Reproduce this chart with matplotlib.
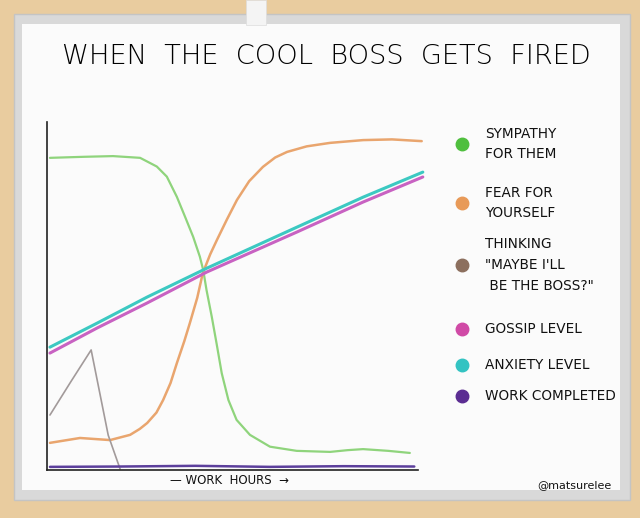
import numpy as np
import matplotlib.pyplot as plt
from matplotlib.patches import Rectangle
from matplotlib.lines import Line2D

# Daten (x = Arbeitsstunden 0..10, y = Niveau 0..10)
sym_x = [0.08, 1.0, 1.78, 2.51, 2.96, 3.23, 3.50, 3.72, 3.94, 4.12, 4.21, 4.30, 4.44, 4.57, 4.71, 4.89, 5.11, 5.47, 6.01, 6.73, 7.63, 8.1, 8.52, 9.2, 9.78]
sym_y = [8.97, 9.00, 9.02, 8.97, 8.72, 8.43, 7.85, 7.28, 6.70, 6.13, 5.75, 5.17, 4.41, 3.64, 2.78, 2.01, 1.44, 1.01, 0.67, 0.55, 0.52, 0.57, 0.60, 0.55, 0.49]

fear_x = [0.08, 0.89, 1.70, 2.24, 2.50, 2.70, 2.95, 3.13, 3.33, 3.50, 3.70, 3.85, 4.05, 4.20, 4.40, 4.58, 4.85, 5.12, 5.45, 5.82, 6.15, 6.47, 7.0, 7.63, 8.52, 9.3, 10.1]
fear_y = [0.78, 0.92, 0.86, 1.01, 1.18, 1.35, 1.65, 2.01, 2.50, 3.07, 3.70, 4.22, 4.95, 5.66, 6.20, 6.61, 7.20, 7.76, 8.30, 8.71, 8.98, 9.14, 9.30, 9.40, 9.48, 9.50, 9.45]

anx_x = [0.08, 1.35, 2.70, 4.31, 6.74, 8.52, 10.13]
anx_y = [3.53, 4.22, 4.97, 5.80, 6.98, 7.84, 8.56]

gossip_x = [0.08, 1.35, 2.70, 4.31, 6.74, 8.52, 10.13]
gossip_y = [3.36, 4.08, 4.80, 5.69, 6.84, 7.70, 8.42]

think_x = [0.08, 0.65, 1.19, 1.65, 1.97]
think_y = [1.58, 2.55, 3.45, 1.00, 0.03]

work_x = [0.08, 2.0, 4.0, 6.0, 8.0, 9.9]
work_y = [0.09, 0.10, 0.12, 0.09, 0.11, 0.10]

labels = ['SYMPATHY\nFOR THEM', 'FEAR FOR\nYOURSELF', 'THINKING\n"MAYBE I\'LL\n BE THE BOSS?"',
          'GOSSIP LEVEL', 'ANXIETY LEVEL', 'WORK COMPLETED']
dot_colors = ['#4fbf3e', '#e89a58', '#8c6f5e', '#d04aa6', '#33c3c2', '#5b2d92']
line_colors = ['#8fd47c', '#e9a56e', '#a29a9a', '#c862c2', '#3cc9c2', '#5c3f9c']

fig = plt.figure(figsize=(6.4, 5.18), dpi=100)
fig.patch.set_facecolor('#e9cc9f')

# Whiteboard mit Rahmen
fig.add_artist(Rectangle((14/640, 1-500/518), 616/640, 486/518, transform=fig.transFigure,
                         facecolor='#d9d9d9', edgecolor='#c4c4c4', lw=1, zorder=-3))
fig.add_artist(Rectangle((22/640, 1-490/518), 598/640, 466/518, transform=fig.transFigure,
                         facecolor='#fbfbfb', edgecolor='none', zorder=-2))
fig.add_artist(Rectangle((246/640, 1-25/518), 20/640, 25/518, transform=fig.transFigure,
                         facecolor='#f4f4f4', edgecolor='#dddddd', lw=0.5, zorder=-1))

ax = fig.add_axes([47/640, 1-470/518, (418-47)/640, (470-122)/518])
ax.set_facecolor('none')
ax.set_xlim(0, 10)
ax.set_ylim(0, 10)
for side in ['top', 'right']:
    ax.spines[side].set_visible(False)
for side in ['left', 'bottom']:
    ax.spines[side].set_color('#222222')
    ax.spines[side].set_linewidth(1.2)
ax.set_xticks([])
ax.set_yticks([])

series = [(sym_x, sym_y, 1.6), (fear_x, fear_y, 1.8), (think_x, think_y, 1.2),
          (gossip_x, gossip_y, 2.2), (anx_x, anx_y, 2.2), (work_x, work_y, 1.8)]
for (xs, ys, lw), c in zip(series, line_colors):
    ax.plot(xs, ys, color=c, lw=lw, solid_capstyle='round', solid_joinstyle='round', clip_on=False)

fig.text(326/640, 1-56/518, 'WHEN  THE  COOL  BOSS  GETS  FIRED', ha='center', va='center',
         fontsize=19.6, color='#000000', fontweight='light')

# Legende
dot_y = [144, 203, 265, 329, 365, 396]
for lab, c, yy in zip(labels, dot_colors, dot_y):
    fig.add_artist(Line2D([462/640], [1-yy/518], marker='o', markersize=9, color=c,
                          transform=fig.transFigure))
    fig.text(485/640, 1-yy/518, lab, ha='left', va='center', fontsize=9.8,
             color='#111111', linespacing=1.6)

fig.text(170/640, 1-481/518, '— WORK  HOURS  →', ha='left', va='center', fontsize=8.5, color='#111111')
fig.text(612/640, 1-485/518, '@matsurelee', ha='right', va='center', fontsize=8, color='#111111')

plt.savefig('out.png', dpi=100, facecolor=fig.get_facecolor())
